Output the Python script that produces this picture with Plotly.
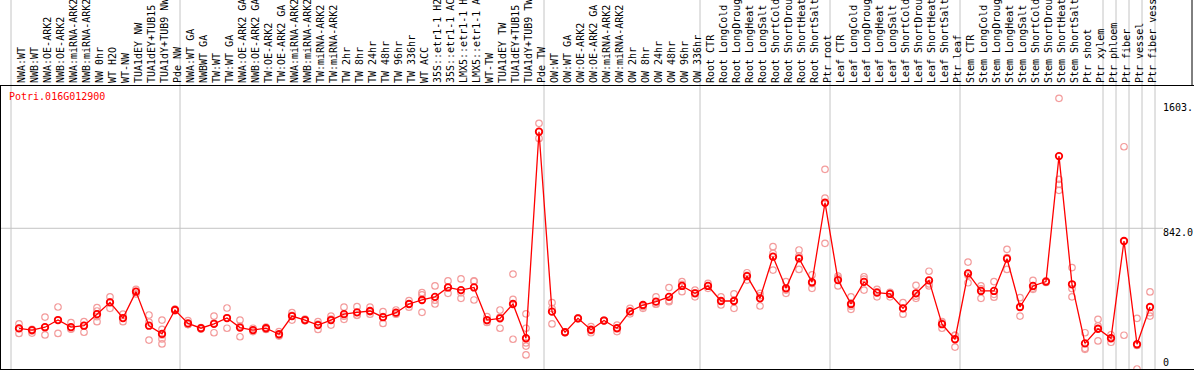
import plotly.graph_objects as go

# ---------------- data ----------------
title_text = "Potri.016G012900"

group_sizes = [13, 28, 12, 10, 10, 11, 1, 1, 1, 1]

labels = [
    # group 1
    "NWA:WT", "NWB:WT", "NWA:OE-ARK2", "NWB:OE-ARK2", "NWA:miRNA-ARK2", "NWB:miRNA-ARK2",
    "NW 0hr", "WT H2O", "WT-NW", "TUA1dEY NW", "TUA1dEY+TUB15 NW", "TUA1dY+TUB9 NW", "Pde NW",
    # group 2
    "NWA:WT GA", "NWBWT GA", "TW:WT", "TW:WT GA", "NWA:OE-ARK2 GA", "NWB:OE-ARK2 GA",
    "TW:OE-ARK2", "TW:OE-ARK2 GA", "NWA:miRNA-ARK2 GA", "NWB:miRNA-ARK2 GA", "TW:miRNA-ARK2",
    "TW:miRNA-ARK2 GA", "TW 2hr", "TW 8hr", "TW 24hr", "TW 48hr", "TW 96hr", "TW 336hr", "WT ACC",
    "35S::etr1-1 H2O", "35S::etr1-1 ACC", "LMX5::etr1-1 H2O", "LMX5::etr1-1 ACC", "WT-TW",
    "TUA1dEY TW", "TUA1dEY+TUB15 TW", "TUA1dY+TUB9 TW", "Pde TW",
    # group 3
    "OW:WT", "OW:WT GA", "OW:OE-ARK2", "OW:OE-ARK2 GA", "OW:miRNA-ARK2", "OW:miRNA-ARK2 GA",
    "OW 2hr", "OW 8hr", "OW 24hr", "OW 48hr", "OW 96hr", "OW 336hr",
    # group 4
    "Root CTR", "Root LongCold", "Root LongDrought", "Root LongHeat", "Root LongSalt",
    "Root ShortCold", "Root ShortDrought", "Root ShortHeat", "Root ShortSalt", "Ptr root",
    # group 5
    "Leaf CTR", "Leaf LongCold", "Leaf LongDrought", "Leaf LongHeat", "Leaf LongSalt",
    "Leaf ShortCold", "Leaf ShortDrought", "Leaf ShortHeat", "Leaf ShortSalt", "Ptr leaf",
    # group 6
    "Stem CTR", "Stem LongCold", "Stem LongDrought", "Stem LongHeat", "Stem LongSalt",
    "Stem ShortCold", "Stem ShortDrought", "Stem ShortHeat", "Stem ShortSalt", "Ptr shoot", "Ptr xylem",
    # singles
    "Ptr phloem", "Ptr fiber", "Ptr vessel", "Ptr fiber vessel",
]

means = [
    243, 233, 250, 293, 251, 259, 328, 399, 305, 463, 259, 210, 353,
    273, 244, 270, 305, 248, 233, 244, 208, 317, 293, 263, 293, 328, 339, 347, 310, 337,
    389, 413, 432, 488, 472, 488, 293, 303, 389, 184, 1420,
    343, 220, 303, 235, 290, 244, 345, 383, 403, 432, 497, 453,
    497, 407, 407, 556, 423, 672, 483, 662, 519, 995,
    532, 389, 521, 457, 449, 363, 453, 530, 268, 178,
    572, 467, 467, 660, 371, 497, 523, 1274, 507, 153, 241,
    184, 766, 148, 371,
]

replicates = [
    [270, 244, 213], [237, 228, 215], [311, 250, 204], [371, 293, 213], [277, 239, 239],
    [283, 259, 220], [367, 347, 283, 313], [432, 402, 363], [305, 283, 328], [477, 463, 449],
    [323, 281, 173], [293, 237, 204, 180, 150], [358, 349, 353],
    [289, 266, 267], [248, 240, 244], [317, 274, 217], [365, 306, 244], [293, 256, 193],
    [244, 233, 224], [251, 244, 237], [224, 202, 197], [337, 293, 321], [298, 288, 293],
    [283, 269, 237], [317, 299, 263], [370, 316, 297], [373, 321, 323], [370, 328, 343],
    [343, 313, 273], [353, 330, 328], [409, 370, 389], [457, 443, 339], [497, 389, 412],
    [527, 453, 487], [539, 423, 456], [528, 413, 524], [313, 288, 279], [353, 244, 311],
    [568, 417, 178], [330, 244, 156, 137, 84], [1470, 1420, 1380],
    [397, 362, 270], [220, 218, 222], [303, 300, 306], [253, 230, 217], [290, 288, 292],
    [263, 244, 224], [363, 330, 345], [372, 363, 383], [432, 389, 388], [487, 403, 409],
    [523, 463, 506], [472, 432, 455],
    [512, 483, 497], [432, 383, 407], [449, 363, 409], [576, 532, 560], [453, 377, 438],
    [732, 592, 692], [523, 453, 472], [712, 596, 677], [563, 483, 511], [1195, 1022, 752],
    [556, 497, 544], [432, 357, 376], [552, 472, 538], [477, 432, 462], [455, 432, 459],
    [397, 328, 363], [501, 423, 436], [585, 497, 509], [283, 244, 276], [202, 131, 201],
    [640, 516, 561], [497, 423, 480], [523, 430, 447], [716, 596, 667], [427, 317, 370],
    [530, 477, 484], [523, 518, 528], [1620, 1135, 1105, 1069], [607, 481, 432],
    [217, 118, 124], [297, 258, 168],
    [205, 184, 160], [1330, 766, 202], [303, 141, 0], [461, 337, 317],
]

y_tick_values = [1603, 842, 0]
y_tick_texts = ["1603.", "842.0", "0"]
grid_value = 842

# ---------------- figure ----------------
W, H = 1194, 370
ML, MT, MB, MR = 1, 86, 1, 0
plot_w = W - ML - MR
plot_h = H - MT - MB
step = 13.0          # px per sample
first_px = 19.0      # px of first sample
x0 = -(first_px - ML) / step
x1 = x0 + plot_w / step
y_top = 1693.5

n = len(labels)
xs = list(range(n))
rx, ry = [], []
for i, reps in enumerate(replicates):
    for v in reps:
        rx.append(i)
        ry.append(v)

fig = go.Figure()
fig.add_trace(go.Scatter(
    x=rx, y=ry, mode="markers", showlegend=False, hoverinfo="skip",
    marker=dict(symbol="circle-open", size=6.5, color="#F39C9C", line=dict(width=1.2)),
))
fig.add_trace(go.Scatter(
    x=xs, y=means, mode="lines+markers", showlegend=False,
    line=dict(color="#FF0000", width=1.3),
    marker=dict(symbol="circle-open", size=6.5, color="#FF0000", line=dict(width=1.8)),
))

shapes = []
top_paper = 1 + MT / plot_h
start = 0
bounds = [0]
for g in group_sizes:
    start += g
    bounds.append(start)
for b in bounds:
    shapes.append(dict(type="line", xref="x", yref="paper", x0=b - 0.615, x1=b - 0.615,
                       y0=0, y1=top_paper, line=dict(color="#C4C4C4", width=1), layer="below"))
shapes.append(dict(type="line", xref="x", yref="y", x0=x0, x1=n, y0=grid_value, y1=grid_value,
                   line=dict(color="#C4C4C4", width=1), layer="below"))
# right edge of label box
shapes.append(dict(type="line", xref="paper", yref="paper", x0=(1192 - ML) / plot_w, x1=(1192 - ML) / plot_w,
                   y0=1, y1=top_paper, line=dict(color="black", width=1)))

mono = "DejaVu Sans Mono"
annotations = [
    dict(text=title_text, xref="paper", yref="paper", x=6 / plot_w, y=1 - 10.5 / plot_h,
         xanchor="left", yanchor="middle", showarrow=False,
         font=dict(family=mono, size=10, color="#FF0000")),
]
shifts = {1603: -6, 842: -4, 0: 7}
for v, t in zip(y_tick_values, y_tick_texts):
    annotations.append(dict(text=t, xref="x", yref="y", x=n, y=v, xanchor="left", yanchor="middle",
                            xshift=-2, yshift=shifts[v], showarrow=False,
                            font=dict(family=mono, size=10, color="black")))

fig.update_layout(
    width=W, height=H, margin=dict(l=ML, r=MR, t=MT, b=MB, pad=0),
    paper_bgcolor="white", plot_bgcolor="white",
    shapes=shapes, annotations=annotations, hovermode=False,
    xaxis=dict(range=[x0, x1], side="top", tickmode="array", tickvals=xs, ticktext=labels,
               tickangle=-90, ticks="", showgrid=False, zeroline=False, automargin=False,
               ticklabelshift=3,
               showline=True, mirror=True, linecolor="black", linewidth=1,
               tickfont=dict(family=mono, size=10, color="black")),
    yaxis=dict(range=[0, y_top], showgrid=False, zeroline=False, showticklabels=False,
               showline=True, linecolor="black", linewidth=1, automargin=False),
)

fig.write_html(
    "out.html",
    config={"displayModeBar": False},
    post_script="document.body.style.margin='0';document.body.style.padding='0';"
                "document.body.style.overflow='hidden';",
)
